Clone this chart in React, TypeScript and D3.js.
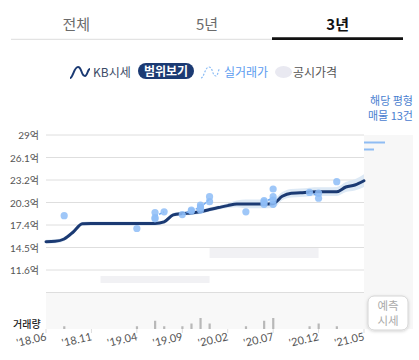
import { useMemo } from 'react'
import * as d3 from 'd3'

// months from '18.06 to '21.05, index 0..35
const months = d3.timeMonth.range(new Date(2018, 5, 1), new Date(2021, 5, 1))
const tickLabels = ["'18.06", "'18.11", "'19.04", "'19.09", "'20.02", "'20.07", "'20.12", "'21.05"]
const yTicks = [11.6, 14.5, 17.4, 20.3, 23.2, 26.1, 29]

// KB 시세 (억), one per month
const kbMid = [15.25, 15.3, 15.6, 16.5, 17.55, 17.6, 17.6, 17.6, 17.6, 17.6, 17.6, 17.6, 17.6,
  17.8, 18.7, 18.88, 18.95, 19.1, 19.4, 19.65, 19.9, 20.1, 20.1, 20.1, 20.1, 20.15,
  21.1, 21.5, 21.55, 21.65, 21.7, 21.7, 21.7, 22.3, 22.55, 23.1]
const kbHigh = [15.5, 15.55, 15.85, 16.75, 17.8, 17.85, 17.85, 17.85, 17.85, 17.85, 17.85, 17.85, 17.85,
  18.05, 18.95, 19.13, 19.2, 19.35, 19.65, 19.9, 20.2, 20.55, 20.7, 20.7, 20.7, 20.75,
  21.65, 22.05, 22.1, 22.2, 22.25, 22.25, 22.3, 22.95, 23.3, 23.95]
const kbLow = [15.0, 15.05, 15.35, 16.25, 17.3, 17.35, 17.35, 17.35, 17.35, 17.35, 17.35, 17.35, 17.35,
  17.55, 18.45, 18.63, 18.7, 18.85, 19.15, 19.4, 19.6, 19.7, 19.55, 19.55, 19.55, 19.6,
  20.6, 20.95, 21.0, 21.1, 21.15, 21.15, 21.15, 21.65, 21.85, 22.3]

// 실거래가 (month index, price 억)
const tradeMonth = [2, 10, 12, 12, 12, 13, 15, 16, 16, 17, 17, 17, 17, 18, 18, 22, 24, 24, 24, 25, 25, 25, 25, 29, 30, 30, 32]
const tradePrice = [18.6, 16.95, 19.0, 18.2, 18.35, 19.1, 18.75, 19.33, 19.2, 19.98, 19.33, 19.7, 19.6, 21.05, 20.4,
  19.1, 20.53, 20.07, 20.36, 22.04, 21.05, 20.07, 20.6, 21.6, 21.5, 20.85, 22.98]

// 공시가격 bands (start month, end month, low, high 억)
const pubStart = [6, 18]
const pubEnd = [18, 30]
const pubLow = [9.93, 13.15]
const pubHigh = [10.83, 14.43]

// 거래량
const volMonth = [2, 10, 12, 13, 15, 16, 17, 18, 22, 24, 25, 29, 30, 32]
const volCount = [1, 1, 3, 1, 1, 2, 4, 2, 1, 3, 4, 1, 2, 1]

const tabs = ['전체', '5년', '3년']
const FONT = "'Noto Sans CJK KR', 'Noto Sans', sans-serif"
const NUMFONT = "Lato, 'Noto Sans CJK KR', sans-serif"

export default function App() {
  const W = 419
  const H = 360
  const x = d3.scaleLinear().domain([0, months.length - 1]).range([46, 364])
  const y = d3.scaleLinear().domain([8.7, 29]).range([292.5, 135])
  const yv = d3.scaleLinear().domain([0, 12]).range([329, 296])

  const idx = d3.range(kbMid.length)
  const line = d3.line<number>().x(i => x(i)).y(i => y(kbMid[i])).curve(d3.curveMonotoneX)
  const band = d3.area<number>().x(i => x(i)).y0(i => y(kbLow[i])).y1(i => y(kbHigh[i])).curve(d3.curveMonotoneX)

  // monthly averages of trades for connecting lines
  const tradeAvg = useMemo(() => {
    const g = d3.rollups(tradeMonth.map((m, i) => ({ m, p: tradePrice[i] })), v => d3.mean(v, d => d.p) as number, d => d.m)
    return g.sort((a, b) => a[0] - b[0])
  }, [])
  const segs: [number, number, number, number][] = []
  for (let i = 1; i < tradeAvg.length; i++) {
    if (tradeAvg[i][0] - tradeAvg[i - 1][0] === 1) {
      segs.push([tradeAvg[i - 1][0], tradeAvg[i - 1][1], tradeAvg[i][0], tradeAvg[i][1]])
    }
  }

  const tickIdx = tickLabels.map((_, i) => i * 5)
  const tabX = d3.scaleBand().domain(tabs).range([11, 403])

  return (
    <div style={{ position: 'fixed', left: 0, top: 0, width: W, height: H, background: '#fff' }}>
      <svg width={W} height={H} style={{ display: 'block', fontFamily: FONT }}>
        <defs>
          <filter id="sh" x="-30%" y="-30%" width="160%" height="160%">
            <feDropShadow dx="0" dy="1" stdDeviation="1.5" floodColor="#000" floodOpacity="0.18" />
          </filter>
        </defs>

        {/* tabs */}
        {tabs.map((t, i) => (
          <text key={t} x={(tabX(t) || 0) + tabX.bandwidth() / 2} y={30} textAnchor="middle"
            fontSize={15} fill={i === 2 ? '#111' : '#6b6b6b'} fontWeight={i === 2 ? 700 : 400}>{t}</text>
        ))}
        <line x1={11} x2={272} y1={39.3} y2={39.3} stroke="#dcdcdc" strokeWidth={1} />
        <line x1={272} x2={403} y1={38.6} y2={38.6} stroke="#111" strokeWidth={2.6} />

        {/* legend */}
        <path d="M70,78 C73,78 74,67 78,67 C82,67 81,76 85,76 C87.5,76 87.5,69 90,69" fill="none" stroke="#1b3a73" strokeWidth={2} />
        <text x={93} y={77} fontSize={12} fill="#3a4a66">KB시세</text>
        <rect x={138} y={63} width={56} height={16} rx={8} fill="#1b3a73" />
        <text x={166} y={75.5} fontSize={12} fontWeight={700} fill="#fff" textAnchor="middle">범위보기</text>
        <path d="M201,78 C204,78 205,67 209,67 C213,67 212,76 216,76 C218,76 218,69 220,69" fill="none" stroke="#8bbcf5" strokeWidth={1.2} strokeDasharray="2,1.5" />
        <text x={224} y={77} fontSize={12} fill="#5b9cf0">실거래가</text>
        <ellipse cx={283.5} cy={72} rx={8.5} ry={6} fill="#e9e9f1" />
        <text x={293} y={77} fontSize={12} fill="#555">공시가격</text>

        {/* listing note */}
        <text x={413} y={105} fontSize={11} fill="#4a80d0" textAnchor="end">해당 평형</text>
        <text x={413} y={120} fontSize={11} fill="#4a80d0" textAnchor="end">매물 13건</text>

        {/* right panel */}
        <rect x={364} y={135} width={49} height={194} fill="#f7f7f7" />
        <line x1={364} x2={385} y1={142.5} y2={142.5} stroke="#8fbcf3" strokeWidth={2} />
        <line x1={364} x2={374} y1={149.5} y2={149.5} stroke="#8fbcf3" strokeWidth={2} />

        {/* volume background */}
        <rect x={46} y={292.5} width={318} height={36.5} fill="#f8f8f8" />

        {/* grid */}
        {[8.7, ...yTicks].map(v => (
          <line key={v} x1={46} x2={364} y1={y(v)} y2={y(v)} stroke="#dedede" strokeWidth={1} />
        ))}
        {yTicks.map(v => (
          <text key={v} x={39} y={y(v) + 4} fontSize={10} fill="#555" textAnchor="end" fontFamily={NUMFONT}>{v}억</text>
        ))}

        {/* 공시가격 */}
        {pubStart.map((s, i) => (
          <rect key={i} x={x(s)} width={x(pubEnd[i]) - x(s)} y={y(pubHigh[i])} height={y(pubLow[i]) - y(pubHigh[i])} fill="#f1f1f4" />
        ))}

        {/* KB band + line */}
        <path d={band(idx) || ''} fill="#d9e7f4" opacity={0.9} />
        <path d={line(idx) || ''} fill="none" stroke="#1b3a73" strokeWidth={3} strokeLinecap="round" />

        {/* 실거래가 */}
        {segs.map((s, i) => (
          <line key={i} x1={x(s[0])} y1={y(s[1])} x2={x(s[2])} y2={y(s[3])} stroke="#6ea8f2" strokeWidth={1.5} strokeDasharray="3,1.5" />
        ))}
        {tradeMonth.map((m, i) => (
          <circle key={i} cx={x(m)} cy={y(tradePrice[i])} r={3.6} fill="#8ebdf7" opacity={0.85} />
        ))}

        {/* volume */}
        <text x={13} y={328} fontSize={10} fill="#222" fontWeight={500}>거래량</text>
        {volMonth.map((m, i) => (
          <rect key={i} x={x(m) - 1} width={2.2} y={yv(volCount[i])} height={yv(0) - yv(volCount[i])} fill="#b8b8b8" />
        ))}

        {/* x axis */}
        {tickIdx.map((m, i) => (
          <g key={m} transform={`translate(${x(m)},0)`}>
            <line y1={329} y2={333} stroke="#ddd" />
            <text transform="translate(1,340) rotate(-13)" fontSize={11} fill="#555" textAnchor="end" fontFamily={NUMFONT}>{tickLabels[i]}</text>
          </g>
        ))}

        {/* 예측 시세 button */}
        <rect x={368} y={296} width={40} height={34} rx={6} fill="#fff" stroke="#d5d5d5" filter="url(#sh)" />
        <text x={388} y={310} fontSize={11.5} fill="#aaa" textAnchor="middle">예측</text>
        <text x={388} y={325} fontSize={11.5} fill="#aaa" textAnchor="middle">시세</text>
      </svg>
    </div>
  )
}
